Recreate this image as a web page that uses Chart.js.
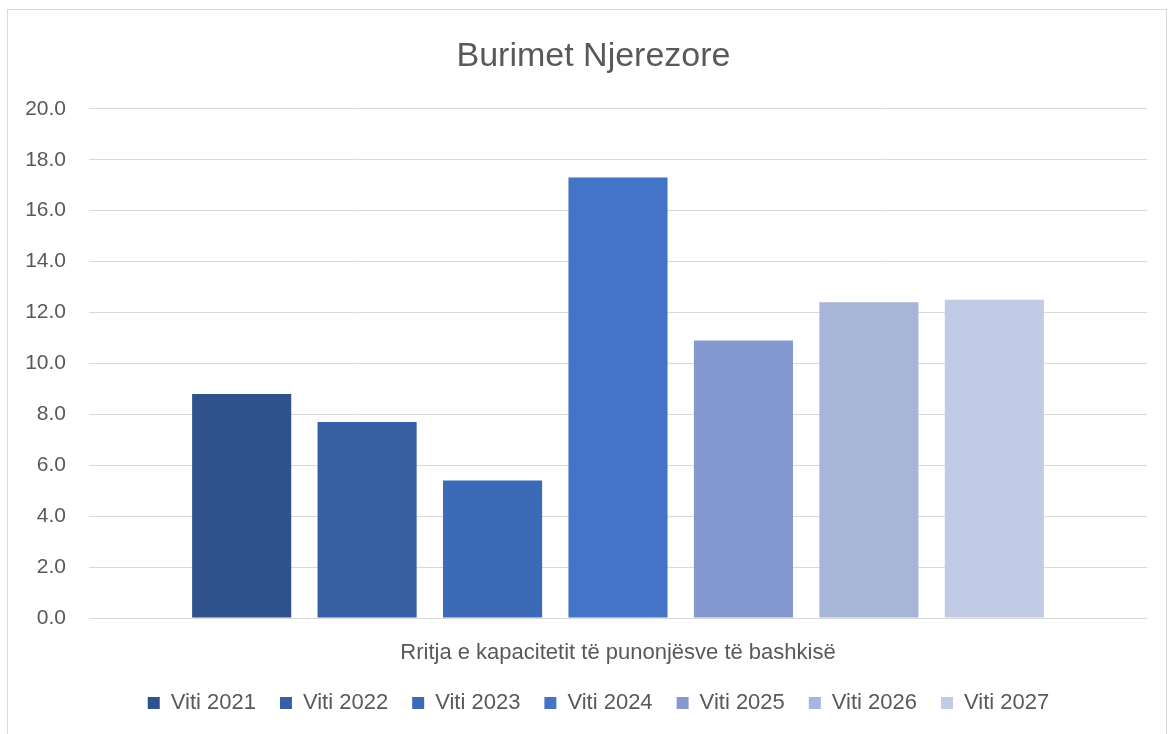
<!DOCTYPE html>
<html>
<head>
<meta charset="utf-8">
<script src="https://cdn.jsdelivr.net/npm/chart.js@4/dist/chart.umd.min.js"></script>
<style>
  html, body { margin: 0; padding: 0; background: #ffffff; overflow: hidden; }
  #frame { position: absolute; left: 7px; top: 9px; width: 1160px; height: 740px; border: 1px solid #d9d9d9; box-sizing: border-box; }
  #wrap { position: absolute; left: 0; top: 0; width: 1169px; height: 734px; }
</style>
</head>
<body>
<div id="frame"></div>
<div id="wrap"><canvas id="hrChart"></canvas></div>
<script>
const categories = ["Rritja e kapacitetit të punonjësve të bashkisë"];
const seriesLabels = ["Viti 2021", "Viti 2022", "Viti 2023", "Viti 2024", "Viti 2025", "Viti 2026", "Viti 2027"];
const seriesValues = [8.8, 7.7, 5.4, 17.3, 10.9, 12.4, 12.5];
const seriesColors = ["#2f528c", "#3760a4", "#3d6ab7", "#4474c8", "#8399cf", "#a7b5d9", "#c2cbe5"];
const yMin = 0, yMax = 20, yStep = 2;

const textColor = "#595959";
const fontFamily = "'Liberation Sans', Arial, sans-serif";

// legend: fixed height; legend and title nudged right so they centre like the original
const legendPlacePlugin = {
  id: "legendPlace",
  beforeInit(chart) {
    const origFit = chart.legend.fit;
    chart.legend.fit = function fit() {
      origFit.bind(chart.legend)();
      this.height = 66;
    };
  },
  afterLayout(chart) {
    chart.legend.left += 25;
    chart.legend.right += 25;
    chart.titleBlock.left += 20;
    chart.titleBlock.right += 20;
  },
};

const datasets = seriesLabels.map((label, i) => ({
  label: label,
  data: [seriesValues[i]],
  backgroundColor: seriesColors[i],
  borderWidth: 0,
  categoryPercentage: 0.83,
  barPercentage: 0.79,
}));

const ctx = document.getElementById("hrChart").getContext("2d");
new Chart(ctx, {
  type: "bar",
  data: { labels: categories, datasets: datasets },
  options: {
    responsive: true,
    maintainAspectRatio: false,
    animation: false,
    layout: { padding: { top: 10, left: 0, right: 22, bottom: 0 } },
    scales: {
      x: {
        grid: { display: false },
        border: { display: false },
        ticks: { color: textColor, font: { family: fontFamily, size: 22 }, padding: 14 },
        afterFit(scale) { scale.height = 50; },
      },
      y: {
        min: yMin,
        max: yMax,
        grid: { color: "#d9d9d9", lineWidth: 1, drawTicks: false },
        border: { display: false },
        ticks: {
          stepSize: yStep,
          color: textColor,
          padding: 23,
          font: { family: fontFamily, size: 21 },
          callback: (v) => Number(v).toFixed(1),
        },
        afterFit(scale) { scale.width = 89; },
      },
    },
    plugins: {
      title: {
        display: true,
        text: "Burimet Njerezore",
        color: textColor,
        font: { family: fontFamily, size: 34, weight: "normal" },
        padding: { top: 26, bottom: 32 },
      },
      legend: {
        position: "bottom",
        labels: {
          color: textColor,
          boxWidth: 12,
          boxHeight: 12,
          padding: 24,
          font: { family: fontFamily, size: 22 },
        },
      },
      tooltip: { enabled: true },
    },
  },
  plugins: [legendPlacePlugin],
});
</script>
</body>
</html>
